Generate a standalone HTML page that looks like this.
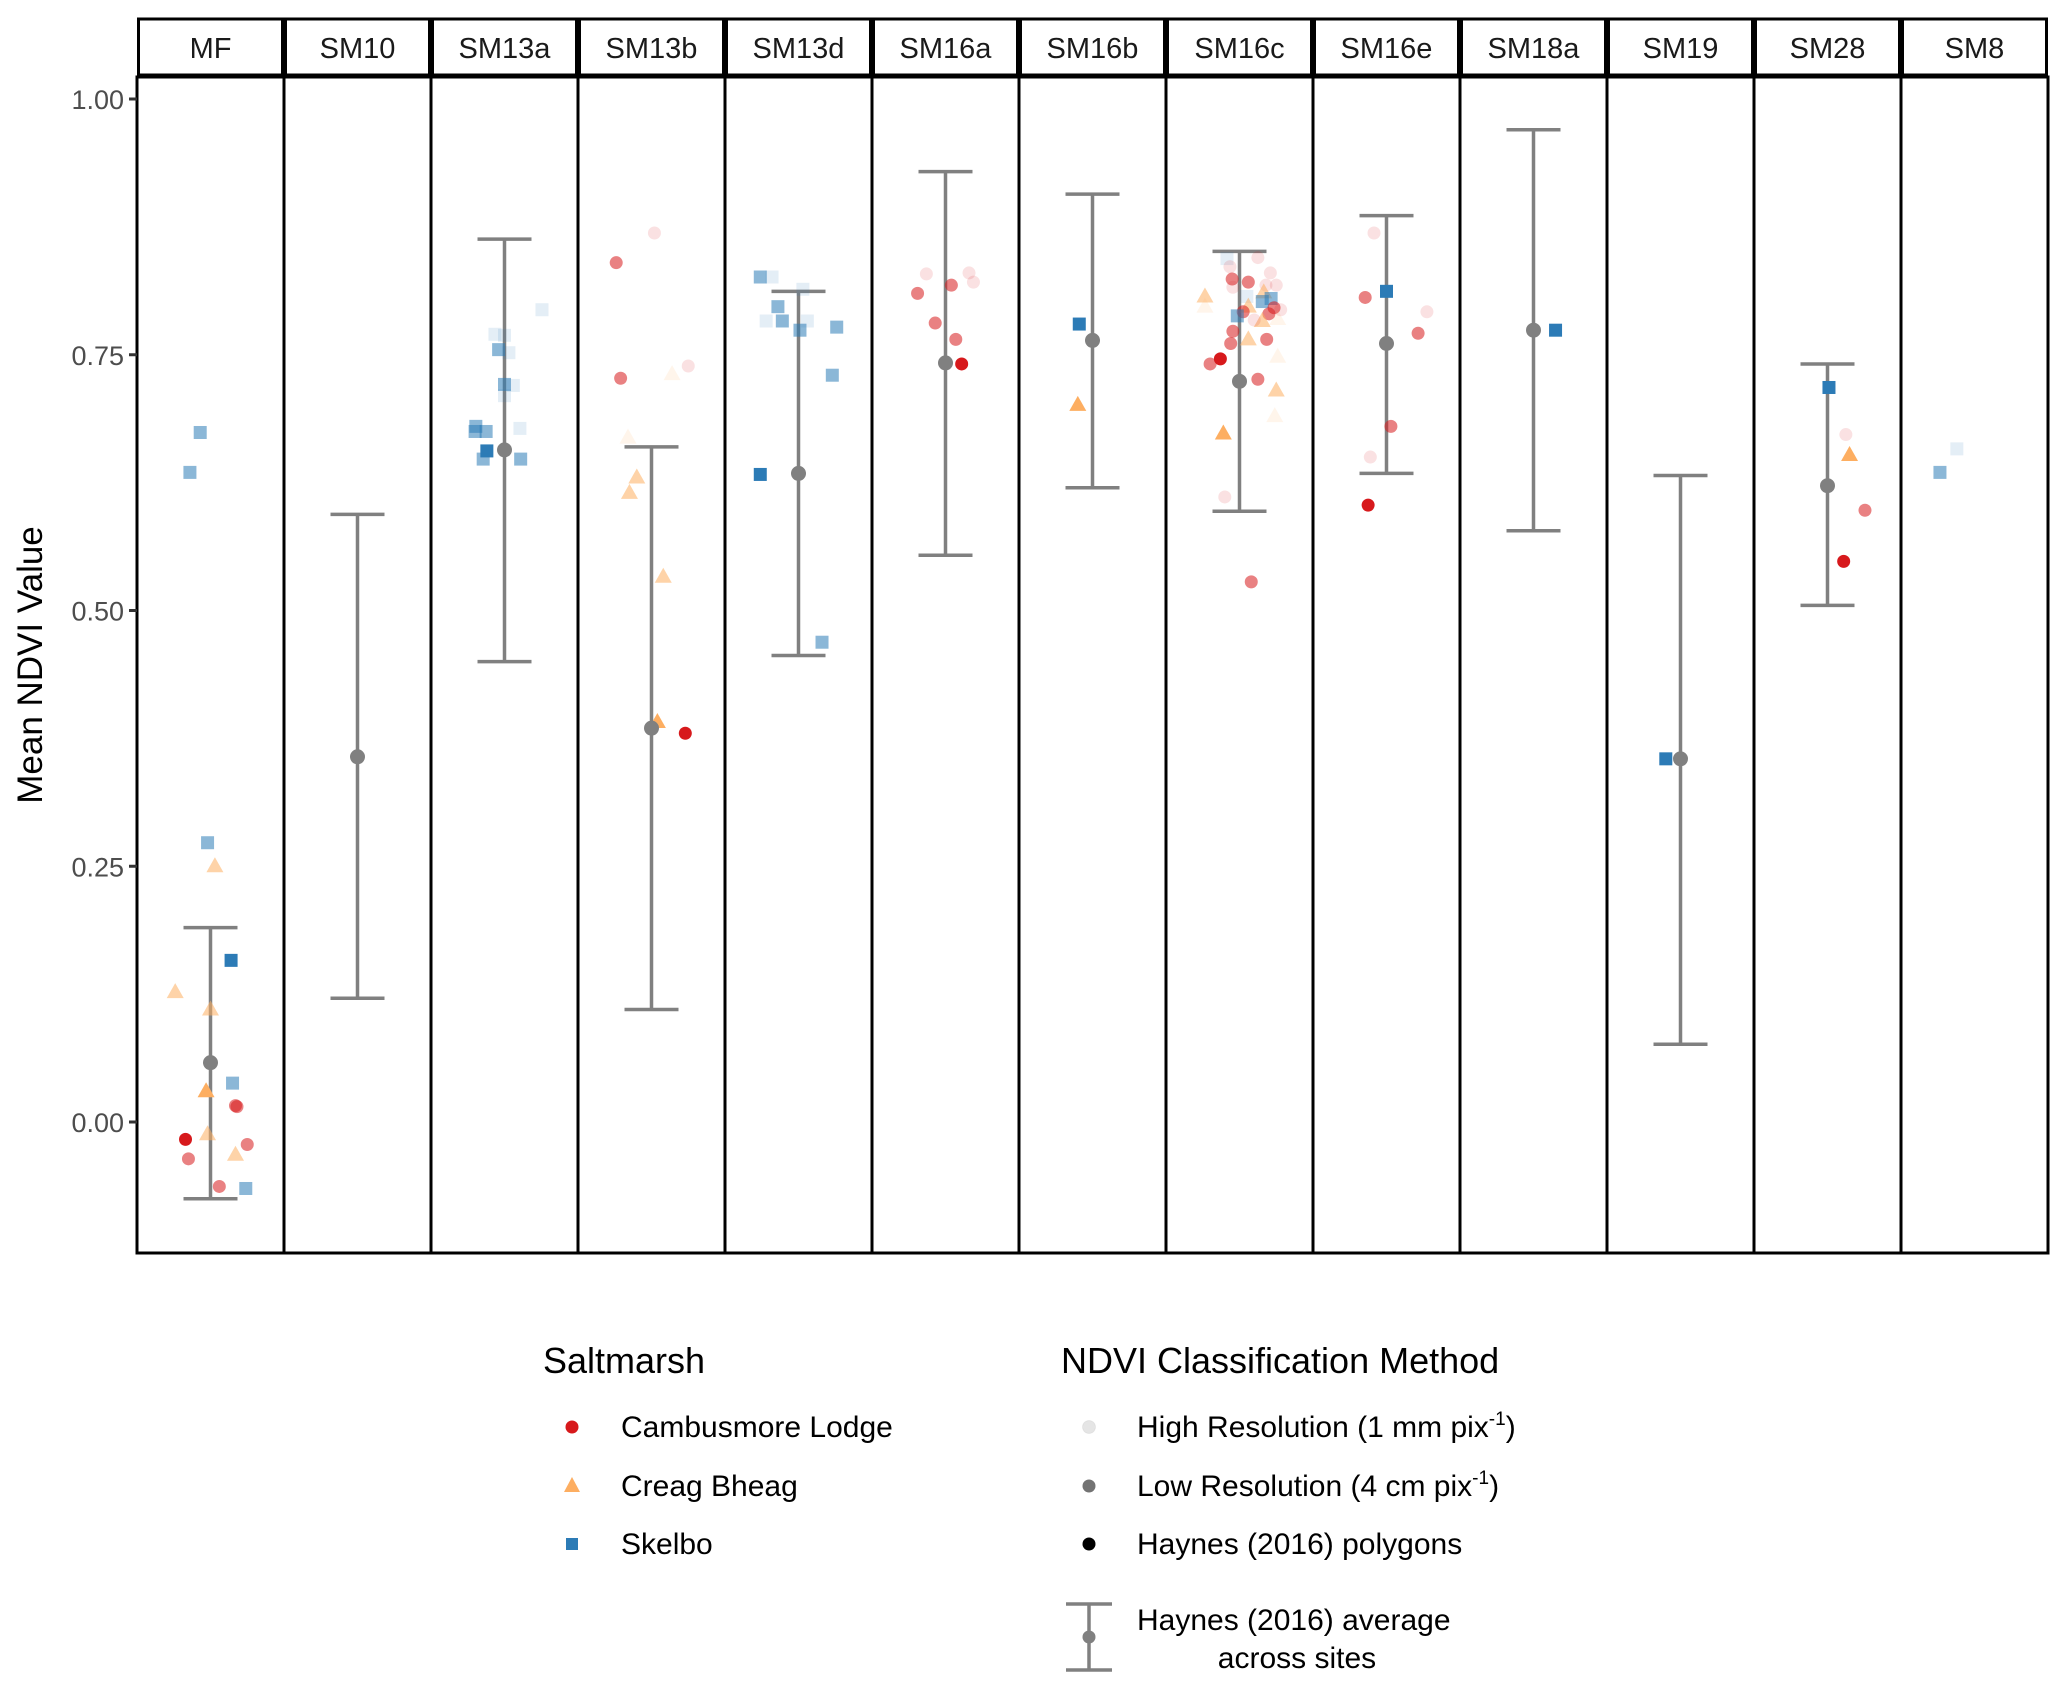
<!DOCTYPE html>
<html><head><meta charset="utf-8"><style>
html,body{margin:0;padding:0;background:#fff;}
svg{display:block;font-family:"Liberation Sans",Arial,sans-serif;}
</style></head><body>
<svg id="chart" width="2067" height="1690" viewBox="0 0 2067 1690" xmlns="http://www.w3.org/2000/svg">
<g id="panels"></g>
<g id="yaxis"></g>
<text x="0" y="0" transform="translate(42,665) rotate(-90)" text-anchor="middle" font-size="35" fill="#000">Mean NDVI Value</text>
<g>
<text x="543" y="1373" font-size="36">Saltmarsh</text>
<circle cx="572" cy="1427" r="6.5" fill="#d7191c"/>
<text x="621" y="1437" font-size="30">Cambusmore Lodge</text>
<polygon points="572,1477 580,1492 564,1492" fill="#fdae61"/>
<text x="621" y="1496" font-size="30">Creag Bheag</text>
<rect x="566" y="1538" width="12" height="12" fill="#2c7bb6"/>
<text x="621" y="1554" font-size="30">Skelbo</text>
</g>
<g>
<text x="1061" y="1373" font-size="36">NDVI Classification Method</text>
<circle cx="1089" cy="1427" r="6.5" fill="#000" fill-opacity="0.1" stroke="#000" stroke-opacity="0.05"/>
<text x="1137" y="1437" font-size="30">High Resolution (1 mm pix<tspan font-size="19" dy="-12">-1</tspan><tspan dy="12">)</tspan></text>
<circle cx="1089" cy="1486" r="6.5" fill="#000" fill-opacity="0.55"/>
<text x="1137" y="1496" font-size="30">Low Resolution (4 cm pix<tspan font-size="19" dy="-12">-1</tspan><tspan dy="12">)</tspan></text>
<circle cx="1089" cy="1544" r="6.5" fill="#000"/>
<text x="1137" y="1554" font-size="30">Haynes (2016) polygons</text>
<g stroke="#808080" stroke-width="3.5">
<line x1="1066" y1="1604" x2="1112" y2="1604"/><line x1="1066" y1="1670" x2="1112" y2="1670"/><line x1="1089" y1="1604" x2="1089" y2="1670"/>
<circle cx="1089" cy="1637" r="6.5" fill="#808080" stroke="none"/></g>
<text x="1137" y="1630" font-size="30">Haynes (2016) average</text>
<text x="1297" y="1668" font-size="30" text-anchor="middle">across sites</text>
</g>
</svg>
<script>
const sites = ["MF","SM10","SM13a","SM13b","SM13d","SM16a","SM16b","SM16c","SM16e","SM18a","SM19","SM28","SM8"];
const avgMean = [0.058,0.357,0.657,0.385,0.634,0.742,0.764,0.724,0.761,0.774,0.355,0.622,null];
const avgHigh = [0.190,0.594,0.863,0.660,0.812,0.929,0.907,0.851,0.886,0.970,0.632,0.741,null];
const avgLow  = [-0.075,0.121,0.450,0.110,0.456,0.554,0.620,0.597,0.634,0.578,0.076,0.505,null];
const yTicks = [0,0.25,0.5,0.75,1];
const yTickLabels = ["0.00","0.25","0.50","0.75","1.00"];
const ptPanel = [
0,0,0,0,0,0,0,0,0,0,0,0,0,0,0,0,0,0,
2,2,2,2,2,2,2,2,2,2,2,2,2,2,2,
3,3,3,3,3,3,3,3,3,3,3,
4,4,4,4,4,4,4,4,4,4,4,4,
5,5,5,5,5,5,5,5,
6,6,
7,7,7,7,7,7,7,7,7,7,7,7,7,7,7,7,7,7,7,7,7,7,7,7,7,7,7,7,7,7,7,7,7,7,7,7,7,
8,8,8,8,8,8,8,8,
9,10,
11,11,11,11,11,
12,12];
const ptSite = [
"S","S","S","B","S","B","B","B","S","C","C","C","B","C","C","B","C","S",
"S","S","S","S","S","S","S","S","S","S","S","S","S","S","S",
"C","C","C","C","B","B","B","B","B","B","C",
"S","S","S","S","S","S","S","S","S","S","S","S",
"C","C","C","C","C","C","C","C",
"S","B",
"S","C","C","C","C","C","C","C","C","B","B","S","S","S","B","B","C","C","C","C","S","B","C","B","C","C","B","C","B","C","C","C","B","B","B","C","C",
"C","S","C","C","C","C","C","C",
"S","S",
"S","C","B","C","C",
"S","S"];
const ptMethod = [
"L","L","L","L","P","L","L","P","L","L","L","P","L","L","L","L","L","L",
"H","H","H","L","H","L","H","H","H","L","L","L","P","L","L",
"H","L","L","H","H","H","L","L","L","P","P",
"L","H","H","L","H","L","H","L","L","L","P","L",
"H","H","H","L","L","L","L","P",
"P","P",
"H","H","H","H","L","L","H","H","H","L","L","H","L","L","L","H","L","H","L","L","L","L","H","H","L","L","L","L","H","P","L","L","L","H","P","H","L",
"H","P","L","H","L","L","H","P",
"P","P",
"P","H","P","L","P",
"H","L"];
const ptJitter = [
-0.07,-0.14,-0.02,0.03,0.14,-0.24,0,-0.03,0.15,0.17,0.18,-0.17,-0.02,-0.15,0.25,0.17,0.06,0.24,
0.255,-0.065,0,-0.04,0.03,0,0.06,0,0.105,-0.195,-0.2,-0.125,-0.12,-0.145,0.11,
0.02,-0.24,-0.21,0.25,0.14,-0.16,-0.1,-0.15,0.08,0.04,0.23,
-0.26,-0.18,0.03,-0.14,-0.22,-0.11,0.06,0.01,0.26,0.23,-0.26,0.16,
-0.13,0.16,0.19,0.04,-0.19,-0.07,0.07,0.11,
-0.09,-0.1,
-0.085,0.125,-0.065,0.21,-0.05,0.06,0.25,-0.045,0.18,-0.235,0.165,0.05,0.215,0.155,0.06,-0.235,0.235,0.28,0.025,0.2,-0.015,0.155,0.1,0.26,-0.045,-0.06,0.06,0.185,0.26,-0.13,-0.2,0.125,0.25,0.24,-0.11,-0.1,0.08,
-0.085,0,-0.145,0.275,0.215,0.03,-0.11,-0.125,
0.15,-0.1,
0.01,0.125,0.15,0.255,0.11,
-0.12,-0.235];
const ptValue = [
0.674,0.635,0.273,0.250,0.158,0.127,0.110,0.030,0.038,0.016,0.015,-0.017,-0.012,-0.036,-0.022,-0.032,-0.063,-0.065,
0.794,0.770,0.769,0.755,0.752,0.721,0.720,0.710,0.678,0.680,0.675,0.675,0.656,0.648,0.648,
0.869,0.840,0.727,0.739,0.731,0.669,0.630,0.615,0.533,0.391,0.380,
0.826,0.826,0.814,0.797,0.783,0.783,0.783,0.774,0.777,0.730,0.633,0.469,
0.829,0.830,0.821,0.818,0.810,0.781,0.765,0.741,
0.780,0.701,
0.844,0.845,0.836,0.830,0.824,0.821,0.818,0.816,0.818,0.807,0.811,0.807,0.805,0.802,0.797,0.797,0.796,0.794,0.792,0.790,0.788,0.783,0.784,0.785,0.773,0.761,0.765,0.765,0.748,0.746,0.741,0.726,0.715,0.690,0.673,0.611,0.528,
0.869,0.812,0.806,0.792,0.771,0.680,0.650,0.603,
0.774,0.355,
0.718,0.672,0.652,0.598,0.548,
0.658,0.635];

const NS="http://www.w3.org/2000/svg";
const plotL=137, panelW=147, panelTop=77, panelBot=1253, stripTop=19, stripBot=75;
function yScale(v){return 1122 - v*1023;}
function xCenter(i){return plotL + panelW*(i+0.5);}
const colors={C:"#d7191c",B:"#fdae61",S:"#2c7bb6"};
const alphas={H:0.13,L:0.55,P:1};
function mk(tag,attrs,parent){const e=document.createElementNS(NS,tag);for(const k in attrs)e.setAttribute(k,attrs[k]);parent.appendChild(e);return e;}
const gp=document.getElementById('panels');
sites.forEach((s,i)=>{
  const x0=plotL+panelW*i;
  const st=mk('rect',{x:x0+1.5,y:stripTop,width:panelW-3,height:stripBot-stripTop,fill:"#fff",stroke:"#000","stroke-width":3},gp);
  
  
  const t=mk('text',{x:xCenter(i),y:58,"text-anchor":"middle","font-size":29,fill:"#1a1a1a"},gp);
  t.textContent=s;
  
  
  const pr=mk('rect',{x:x0,y:panelTop,width:panelW,height:panelBot-panelTop,fill:"none",stroke:"#000","stroke-width":3},gp);
  
  
});
sites.forEach((s,i)=>{
  if(avgMean[i]===null)return;
  const g=mk('g',{stroke:"#808080","stroke-width":3.5},gp);
  
  
  const cx=xCenter(i), yt=yScale(avgHigh[i]), yb=yScale(avgLow[i]);
  mk('line',{x1:cx,y1:yt,x2:cx,y2:yb},g);
  mk('line',{x1:cx-27,y1:yt,x2:cx+27,y2:yt},g);
  mk('line',{x1:cx-27,y1:yb,x2:cx+27,y2:yb},g);
});
const gpts=mk('g',{},gp);


ptValue.forEach((v,k)=>{
  const cx=xCenter(ptPanel[k])+ptJitter[k]*panelW, cy=yScale(v);
  const s=ptSite[k], c=colors[s], a=alphas[ptMethod[k]];
  let e;
  if(s==="C") e=mk('circle',{cx:cx,cy:cy,r:6.5,fill:c,"fill-opacity":a},gpts);
  else if(s==="B") e=mk('polygon',{points:(cx)+","+(cy-9)+" "+(cx+8.5)+","+(cy+6)+" "+(cx-8.5)+","+(cy+6),fill:c,"fill-opacity":a},gpts);
  else e=mk('rect',{x:cx-6.5,y:cy-6.5,width:13,height:13,fill:c,"fill-opacity":a},gpts);
  
  
});
sites.forEach((s,i)=>{
  if(avgMean[i]===null)return;
  const m=mk('circle',{cx:xCenter(i),cy:yScale(avgMean[i]),r:7.5,fill:"#808080"},gp);
  
  
});
const bl=mk('line',{x1:plotL-1.5,y1:panelBot,x2:plotL+panelW*sites.length+1.5,y2:panelBot,stroke:"#000","stroke-width":3},gp);


const ga=document.getElementById('yaxis');
yTicks.forEach((v,k)=>{
  const y=yScale(v);
  const tk=mk('line',{x1:plotL-8,y1:y,x2:plotL,y2:y,stroke:"#333","stroke-width":3},ga);
  
  
  const tl=mk('text',{x:plotL-13,y:y+10,"text-anchor":"end","font-size":27,fill:"#4d4d4d"},ga);
  tl.textContent=yTickLabels[k];
  
  
});
</script>
</body></html>
